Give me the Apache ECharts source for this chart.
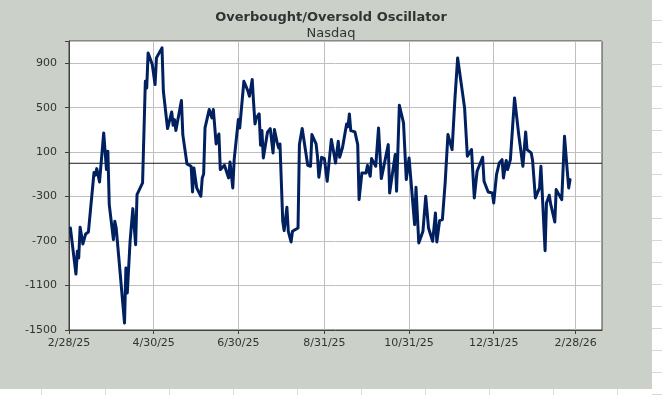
<!DOCTYPE html>
<html>
<head>
<meta charset="utf-8">
<script src="https://cdn.jsdelivr.net/npm/echarts@6/dist/echarts.min.js"></script>
<style>
html,body{margin:0;padding:0;background:#ffffff;}
#chart{width:662px;height:395px;}
</style>
</head>
<body>
<div id="chart"></div>
<script>
// ---- data ----
var dates = [
'2025-03-01','2025-03-05','2025-03-06','2025-03-07','2025-03-08','2025-03-10','2025-03-12','2025-03-14','2025-03-18','2025-03-19',
'2025-03-20','2025-03-22','2025-03-25','2025-03-27','2025-03-28','2025-03-29','2025-04-01','2025-04-02','2025-04-03','2025-04-09',
'2025-04-10','2025-04-11','2025-04-13','2025-04-15','2025-04-17','2025-04-18','2025-04-22','2025-04-24','2025-04-25','2025-04-26',
'2025-04-29','2025-05-01','2025-05-02','2025-05-06','2025-05-07','2025-05-10','2025-05-13','2025-05-14','2025-05-15','2025-05-16',
'2025-05-20','2025-05-21','2025-05-24','2025-05-27','2025-05-28','2025-05-29','2025-05-31','2025-06-03','2025-06-04','2025-06-05',
'2025-06-06','2025-06-09','2025-06-11','2025-06-12','2025-06-14','2025-06-16','2025-06-17','2025-06-20','2025-06-23','2025-06-24',
'2025-06-26','2025-06-27','2025-06-30','2025-07-01','2025-07-04','2025-07-07','2025-07-08','2025-07-09','2025-07-10','2025-07-11',
'2025-07-12','2025-07-13','2025-07-15','2025-07-16','2025-07-17','2025-07-18','2025-07-21','2025-07-23','2025-07-25','2025-07-26',
'2025-07-28','2025-07-29','2025-07-30','2025-08-01','2025-08-02','2025-08-04','2025-08-05','2025-08-07','2025-08-08','2025-08-12',
'2025-08-13','2025-08-14','2025-08-15','2025-08-19','2025-08-21','2025-08-22','2025-08-25','2025-08-26','2025-08-27','2025-08-29',
'2025-08-31','2025-09-02','2025-09-05','2025-09-07','2025-09-08','2025-09-10','2025-09-11','2025-09-13','2025-09-16','2025-09-17',
'2025-09-18','2025-09-19','2025-09-22','2025-09-24','2025-09-25','2025-09-27','2025-09-30','2025-10-01','2025-10-03','2025-10-04',
'2025-10-05','2025-10-07','2025-10-09','2025-10-11','2025-10-16','2025-10-17','2025-10-21','2025-10-22','2025-10-24','2025-10-27',
'2025-10-29','2025-10-31','2025-11-04','2025-11-05','2025-11-07','2025-11-10','2025-11-12','2025-11-14','2025-11-17','2025-11-19',
'2025-11-20','2025-11-22','2025-11-24','2025-11-26','2025-11-28','2025-12-01','2025-12-03','2025-12-05','2025-12-10','2025-12-12',
'2025-12-15','2025-12-17','2025-12-19','2025-12-23','2025-12-24','2025-12-27','2025-12-30','2025-12-31','2026-01-02','2026-01-04',
'2026-01-06','2026-01-07','2026-01-09','2026-01-10','2026-01-12','2026-01-15','2026-01-18','2026-01-21','2026-01-23','2026-01-24',
'2026-01-27','2026-01-28','2026-01-30','2026-02-02','2026-02-03','2026-02-06','2026-02-07','2026-02-09','2026-02-10','2026-02-13',
'2026-02-14','2026-02-16','2026-02-18','2026-02-20','2026-02-22','2026-02-23','2026-02-24'
];
var oscillator = [
-582,-997,-792,-852,-576,-726,-636,-618,-84,-108,
-48,-168,273,-57,108,-372,-687,-522,-582,-1437,
-942,-1167,-702,-408,-732,-282,-177,738,678,993,
888,708,948,1038,648,312,462,342,393,294,
564,258,-6,-27,-258,-42,-222,-297,-132,-96,
318,483,408,483,174,264,-57,-18,-132,12,
-222,33,393,318,738,648,603,678,753,543,
354,408,444,162,294,48,280,312,93,303,
183,138,174,-522,-606,-396,-612,-708,-612,-582,
168,174,312,-18,-27,258,174,63,-126,54,
42,-162,213,78,3,198,54,138,354,330,
444,294,282,168,-327,-87,-87,-20,-117,42,
42,-27,318,-138,168,-267,78,-252,522,363,
-147,48,-552,-216,-717,-612,-297,-582,-702,-447,
-708,-516,-507,-177,258,123,573,948,498,63,
123,-312,-72,54,-162,-258,-267,-357,-102,3,
33,-132,24,-57,33,588,258,-27,282,123,
93,24,-312,-222,-27,-786,-357,-288,-366,-528,
-237,-282,-327,243,-72,-222,-147
];
var xTickDates = ['2025-02-28','2025-04-30','2025-06-30','2025-08-31','2025-10-31','2025-12-31','2026-02-28'];
var xAxisEndDate = '2026-03-19';
var yMin = -1500, yMax = 1100, yStep = 400;
var yTicks = [-1500,-1100,-700,-300,100,500,900];
var zeroLevel = 0;
var titleText = 'Overbought/Oversold Oscillator';
var subtitleText = 'Nasdaq';

// ---- helpers ----
function dayNum(s){
  var p = s.split('-');
  return Math.round((Date.UTC(+p[0], +p[1]-1, +p[2]) - Date.UTC(2025,1,28)) / 86400000);
}
function fmtDate(s){
  var p = s.split('-');
  return (+p[1]) + '/' + (+p[2]) + '/' + p[0].slice(2);
}
var xMaxDay = dayNum(xAxisEndDate);
var tickDays = xTickDates.map(dayNum);
var tickLabelMap = {};
xTickDates.forEach(function(d){ tickLabelMap[dayNum(d)] = fmtDate(d); });
var seriesData = dates.map(function(d,i){ return [dayNum(d), oscillator[i]]; });

// spreadsheet strips at edge (decoration)
var deco = [];
deco.push({type:'rect', shape:{x:652,y:0,width:10,height:395}, style:{fill:'#ffffff'}, silent:true});
deco.push({type:'rect', shape:{x:0,y:389,width:662,height:6}, style:{fill:'#ffffff'}, silent:true});
for (var yy = 20; yy < 395; yy += 22) {
  deco.push({type:'line', shape:{x1:652,y1:yy+0.5,x2:662,y2:yy+0.5}, style:{stroke:'#d8d8d8',lineWidth:1}, silent:true});
}
for (var xx = 41; xx < 662; xx += 64) {
  deco.push({type:'line', shape:{x1:xx+0.5,y1:389,x2:xx+0.5,y2:395}, style:{stroke:'#d8d8d8',lineWidth:1}, silent:true});
}

var chart = echarts.init(document.getElementById('chart'), null, {renderer:'canvas'});
chart.setOption({
  backgroundColor: '#cbd0c8',
  animation: false,
  textStyle: {fontFamily: 'DejaVu Sans'},
  graphic: deco,
  title: [
    {text: titleText, left: 'center', top: 6,
     textStyle: {fontSize: 13, fontWeight: 'bold', color: '#333333', fontFamily: 'DejaVu Sans'}},
    {text: subtitleText, left: 'center', top: 22,
     textStyle: {fontSize: 13, fontWeight: 'normal', color: '#333333', fontFamily: 'DejaVu Sans'}}
  ],
  grid: {left: 69, right: 60, top: 41, bottom: 65, show: true,
         backgroundColor: '#ffffff', borderColor: '#404040', borderWidth: 1, containLabel: false},
  xAxis: {
    type: 'value', min: 0, max: xMaxDay, position: 'bottom',
    axisLine: {show: true, onZero: false, lineStyle: {color: '#404040'}},
    axisTick: {show: true, customValues: tickDays, length: 4, lineStyle: {color: '#404040'}},
    axisLabel: {customValues: tickDays, margin: 8, fontSize: 11, color: '#333333', fontFamily: 'DejaVu Sans',
      formatter: function(v){ return tickLabelMap[Math.round(v)] || ''; }},
    splitLine: {show: true, lineStyle: {color: '#bfbfbf', width: 1}}
  },
  yAxis: {
    type: 'value', min: yMin, max: yMax, interval: yStep,
    axisLine: {show: true, lineStyle: {color: '#404040'}},
    axisTick: {show: true, length: 4, lineStyle: {color: '#404040'}},
    axisLabel: {margin: 12, fontSize: 11, color: '#333333', fontFamily: 'DejaVu Sans',
      formatter: function(v){ return yTicks.indexOf(v) >= 0 ? String(v) : ''; }},
    splitLine: {show: true, lineStyle: {color: '#bfbfbf', width: 1}}
  },
  series: [{
    // zero reference line across the whole plot
    type: 'line', silent: true, z: 2,
    data: [[0, zeroLevel], [xMaxDay, zeroLevel]],
    showSymbol: false, symbol: 'none',
    lineStyle: {color: '#1a1a1a', width: 1}
  }, {
    type: 'line',
    data: seriesData,
    showSymbol: false,
    symbol: 'none',
    lineStyle: {color: '#002060', width: 3, join: 'round', cap: 'round'},
    z: 3
  }]
});
</script>
</body>
</html>
